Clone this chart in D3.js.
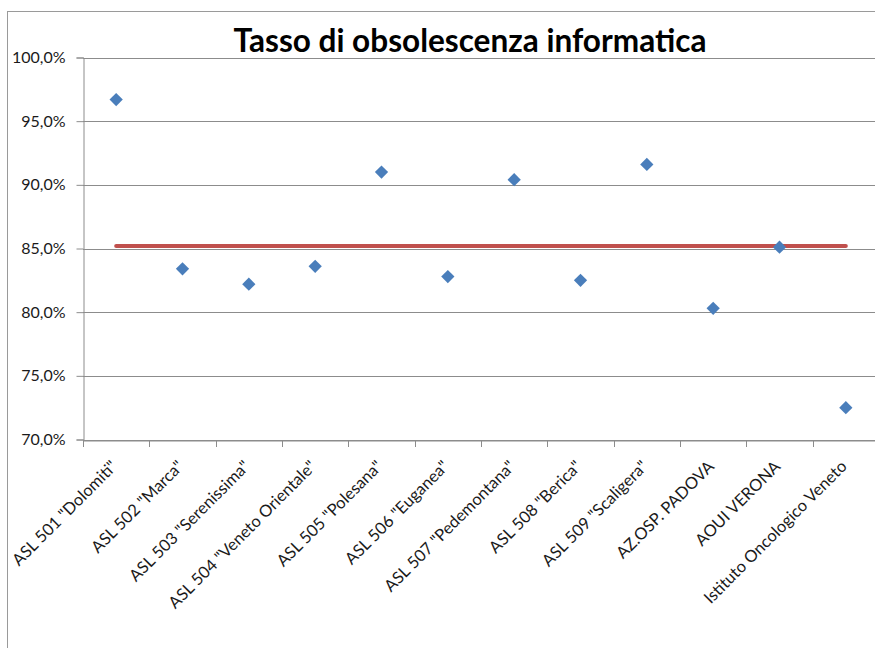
<!DOCTYPE html>
<html><head><meta charset="utf-8">
<script src="https://cdn.jsdelivr.net/npm/d3@7"></script>
<style>
html,body{margin:0;padding:0;background:#fff;}
svg{display:block;}
</style></head>
<body>
<svg id="chart" width="875" height="648"></svg>
<script>
const title = "Tasso di obsolescenza informatica";
const categories = ["ASL 501 \"Dolomiti\"","ASL 502 \"Marca\"","ASL 503 \"Serenissima\"","ASL 504 \"Veneto Orientale\"","ASL 505 \"Polesana\"","ASL 506 \"Euganea\"","ASL 507 \"Pedemontana\"","ASL 508 \"Berica\"","ASL 509 \"Scaligera\"","AZ.OSP. PADOVA","AOUI VERONA","Istituto Oncologico Veneto"];
const rates = [0.967,0.834,0.822,0.836,0.910,0.828,0.904,0.825,0.916,0.803,0.851,0.725];
const average = [0.852,0.852,0.852,0.852,0.852,0.852,0.852,0.852,0.852,0.852,0.852,0.852];
const yTicks = [0.70,0.75,0.80,0.85,0.90,0.95,1.00];

(function(){
const svg = d3.select("#chart");
const font = "Lato, 'Open Sans', sans-serif";

// chart area border
svg.append("rect").attr("x",7.5).attr("y",11.5).attr("width",900).attr("height",700)
  .attr("fill","#fff").attr("stroke","#9a9a9a").attr("stroke-width",1);

const pLeft = 83, pRight = 879, pTop = 57.5, pBottom = 439.5;
const x = d3.scaleBand().domain(categories).range([pLeft,pRight]).padding(0);
const y = d3.scaleLinear().domain([0.70,1.00]).range([pBottom,pTop]);
const fmt = v => d3.format(".1f")(v*100).replace(".",",") + "%";

// gridlines
svg.append("g").selectAll("line").data(yTicks).join("line")
  .attr("x1",pLeft).attr("x2",pRight)
  .attr("y1",d=>Math.round(y(d))+0.5).attr("y2",d=>Math.round(y(d))+0.5)
  .attr("stroke","#8c8c8c").attr("stroke-width",1);

// y axis
const yAxis = svg.append("g").attr("transform",`translate(${pLeft+0.5},0)`)
  .call(d3.axisLeft(y).tickValues(yTicks).tickFormat(fmt).tickSize(7).tickPadding(11));
yAxis.select(".domain").attr("stroke","#8c8c8c");
yAxis.selectAll(".tick line").attr("stroke","#8c8c8c");
yAxis.selectAll(".tick text").attr("font-family",font).attr("font-size","16px").attr("fill","#1a1a1a");

// x axis
const xAxis = svg.append("g").attr("transform",`translate(0,${Math.round(pBottom)+0.5})`)
  .call(d3.axisBottom(x).tickSize(0).tickFormat(""));
xAxis.select(".domain").attr("stroke","#8c8c8c");
xAxis.selectAll(".tick").remove();
// boundary tick marks
const bounds = categories.map(c=>x(c)).concat([pRight]);
svg.append("g").selectAll("line").data(bounds).join("line")
  .attr("x1",d=>Math.round(d)+0.5).attr("x2",d=>Math.round(d)+0.5)
  .attr("y1",Math.round(pBottom)).attr("y2",Math.round(pBottom)+7)
  .attr("stroke","#8c8c8c");

// x labels
svg.append("g").selectAll("text").data(categories).join("text")
  .attr("transform",d=>`translate(${x(d)+x.bandwidth()/2+2},${pBottom+28}) rotate(-45)`)
  .attr("text-anchor","end")
  .attr("font-family",font).attr("font-size","16.5px").attr("fill","#1a1a1a")
  .text(d=>d);

// average line
svg.append("path").datum(average)
  .attr("d", d3.line().x((d,i)=>x(categories[i])+x.bandwidth()/2).y(d=>y(d)))
  .attr("fill","none").attr("stroke","#C0504D").attr("stroke-width",4).attr("stroke-linecap","round");

// markers
const sym = d3.symbol().type(d3.symbolSquare).size(88);
svg.append("g").selectAll("path").data(rates).join("path")
  .attr("transform",(d,i)=>`translate(${x(categories[i])+x.bandwidth()/2},${y(d)}) rotate(45)`)
  .attr("d",sym).attr("fill","#4A7EBB");

// title
const t = svg.append("text").attr("x",470).attr("y",52).attr("text-anchor","middle")
  .attr("font-family",font).attr("font-weight","bold").attr("font-size","26px").attr("fill","#000")
  .text(title);
const w = t.node().getComputedTextLength();
t.attr("font-size", (26*473/w).toFixed(2)+"px");
})();
</script>
</body></html>
